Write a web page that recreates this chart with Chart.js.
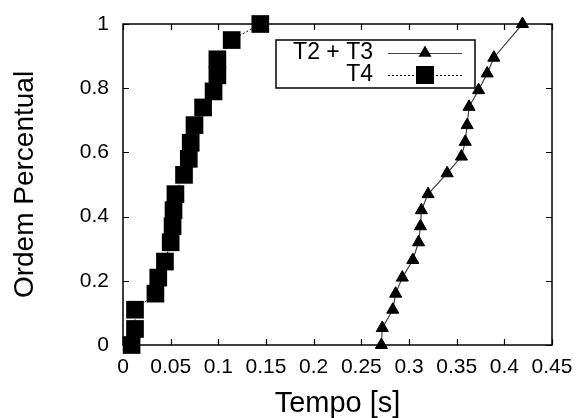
<!DOCTYPE html>
<html><head><meta charset="utf-8">
<script src="https://cdn.jsdelivr.net/npm/chart.js@4.4.1/dist/chart.umd.min.js"></script>
<style>html,body{margin:0;padding:0;background:#fff}#wrap{width:579px;height:418px}</style>
</head><body><div id="wrap"><canvas id="c" width="579" height="418"></canvas></div>
<script>
const seriesNames = ['T2 + T3', 'T4'];
const t23Time = [0.271, 0.272, 0.283, 0.286, 0.293, 0.304, 0.310, 0.312, 0.313, 0.320, 0.340, 0.355, 0.359, 0.361, 0.363, 0.373, 0.382, 0.389, 0.419];
const t23Rank = [0.0, 0.053, 0.11, 0.16, 0.21, 0.265, 0.32, 0.37, 0.42, 0.47, 0.535, 0.587, 0.633, 0.685, 0.742, 0.794, 0.846, 0.895, 1.0];
const t4Time = [0.009, 0.0126, 0.0126, 0.034, 0.037, 0.044, 0.050, 0.052, 0.053, 0.055, 0.064, 0.069, 0.071, 0.075, 0.084, 0.095, 0.099, 0.099, 0.114, 0.144];
const t4Rank = [0.0, 0.05, 0.11, 0.16, 0.21, 0.26, 0.32, 0.37, 0.42, 0.47, 0.53, 0.58, 0.63, 0.685, 0.74, 0.79, 0.84, 0.89, 0.95, 1.0];
const xTicks = [0, 0.05, 0.1, 0.15, 0.2, 0.25, 0.3, 0.35, 0.4, 0.45];
const yTicks = [0, 0.2, 0.4, 0.6, 0.8, 1];
const xTitle = 'Tempo [s]';
const yTitle = 'Ordem Percentual';

const FONT = "'Liberation Sans', Arial, sans-serif";
const fmt = v => String(Number(v.toFixed(2)));

const frameTicks = {
  id: 'frameTicks',
  beforeDatasetsDraw(chart) {
    const {ctx, chartArea: a, scales: {x, y}} = chart;
    ctx.save();
    ctx.strokeStyle = '#000';
    ctx.lineWidth = 1.5;
    ctx.strokeRect(a.left, a.top, a.right - a.left, a.bottom - a.top);
    ctx.lineWidth = 1.2;
    ctx.beginPath();
    x.ticks.forEach(t => {
      const px = Math.round(x.getPixelForValue(t.value)) + 0.5;
      ctx.moveTo(px, a.bottom); ctx.lineTo(px, a.bottom - 6);
      ctx.moveTo(px, a.top); ctx.lineTo(px, a.top + 6);
    });
    y.ticks.forEach(t => {
      const py = Math.round(y.getPixelForValue(t.value)) + 0.5;
      ctx.moveTo(a.left, py); ctx.lineTo(a.left + 6, py);
      ctx.moveTo(a.right, py); ctx.lineTo(a.right - 6, py);
    });
    ctx.stroke();
    ctx.restore();
  }
};

const keyBox = {
  id: 'keyBox',
  afterDatasetsDraw(chart) {
    const {ctx, chartArea: a} = chart;
    const L = a.left, T = a.top;
    ctx.save();
    ctx.strokeStyle = '#000';
    ctx.lineWidth = 1.5;
    ctx.strokeRect(L + 153, T + 16, 199, 48);
    ctx.fillStyle = '#000';
    ctx.font = '23px ' + FONT;
    ctx.textAlign = 'right';
    ctx.textBaseline = 'middle';
    const rows = [T + 29, T + 51];
    ctx.fillText(seriesNames[0], L + 250, rows[0]);
    ctx.fillText(seriesNames[1], L + 250, rows[1]);
    // row 1: solid line with triangle
    ctx.strokeStyle = '#444';
    ctx.lineWidth = 1;
    ctx.beginPath(); ctx.moveTo(L + 265, rows[0] + 0.5); ctx.lineTo(L + 339, rows[0] + 0.5); ctx.stroke();
    const r = 7.5, cx = L + 302, cy = rows[0];
    ctx.fillStyle = '#000';
    ctx.beginPath();
    ctx.moveTo(cx, cy - r);
    ctx.lineTo(cx + r * 0.866, cy + r * 0.5);
    ctx.lineTo(cx - r * 0.866, cy + r * 0.5);
    ctx.closePath(); ctx.fill();
    // row 2: dotted line with square
    ctx.strokeStyle = '#000';
    ctx.setLineDash([2, 2]);
    ctx.beginPath(); ctx.moveTo(L + 265, rows[1] + 0.5); ctx.lineTo(L + 339, rows[1] + 0.5); ctx.stroke();
    ctx.setLineDash([]);
    ctx.fillRect(L + 302 - 9, rows[1] - 9, 18, 18);
    ctx.restore();
  }
};

new Chart(document.getElementById('c'), {
  type: 'scatter',
  data: {
    datasets: [
      {
        label: seriesNames[0],
        data: t23Time.map((v, i) => ({x: v, y: t23Rank[i]})),
        showLine: true,
        borderColor: '#444',
        borderWidth: 1.2,
        pointStyle: 'triangle',
        pointRadius: 7,
        pointBackgroundColor: '#000',
        pointBorderColor: '#000',
        pointBorderWidth: 1,
        clip: false
      },
      {
        label: seriesNames[1],
        data: t4Time.map((v, i) => ({x: v, y: t4Rank[i]})),
        showLine: true,
        borderColor: '#000',
        borderWidth: 1,
        borderDash: [2, 2],
        pointStyle: 'rect',
        pointRadius: 12.5,
        pointBackgroundColor: '#000',
        pointBorderColor: '#000',
        pointBorderWidth: 0,
        clip: false
      }
    ]
  },
  options: {
    responsive: false,
    animation: false,
    devicePixelRatio: 1,
    layout: {padding: {top: 24, right: 27, left: 0, bottom: 0}},
    plugins: {legend: {display: false}, tooltip: {enabled: false}},
    scales: {
      x: {
        type: 'linear', min: 0, max: 0.45,
        afterBuildTicks: s => { s.ticks = xTicks.map(v => ({value: v})); },
        afterFit: s => { s.height = 73; s.paddingLeft = 0; s.paddingRight = 0; },
        grid: {display: false, drawTicks: false},
        border: {display: false},
        ticks: {color: '#000', font: {family: FONT, size: 21}, padding: 10, maxRotation: 0, autoSkip: false, callback: v => fmt(v)},
        title: {display: true, text: xTitle, color: '#000', font: {family: FONT, size: 29, lineHeight: 1}, padding: {top: 0, bottom: 0}}
      },
      y: {
        type: 'linear', min: 0, max: 1,
        afterBuildTicks: s => { s.ticks = yTicks.map(v => ({value: v})); },
        afterFit: s => { s.width = 123; s.paddingTop = 0; s.paddingBottom = 0; },
        grid: {display: false, drawTicks: false},
        border: {display: false},
        ticks: {color: '#000', font: {family: FONT, size: 21}, padding: 14, autoSkip: false, callback: v => fmt(v)},
        title: {display: true, text: yTitle, color: '#000', font: {family: FONT, size: 28, lineHeight: 1}, padding: {top: 11, bottom: 0}}
      }
    }
  },
  plugins: [frameTicks, keyBox]
});
</script>
</body></html>
